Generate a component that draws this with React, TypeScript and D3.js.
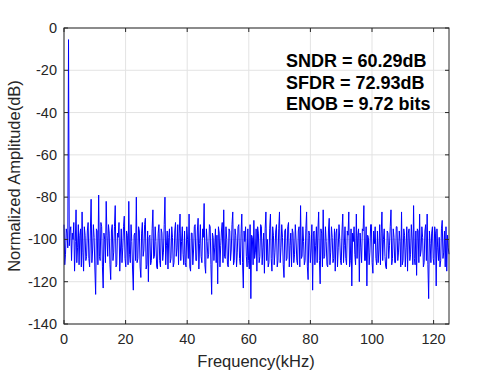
import React from "react";
import * as d3 from "d3";

// FFT output, 512 bins over 0..125 kHz, normalized amplitude in dB
const binStep = 125 / 511;

const amp0to31k = [
  -93, -112, -107, -95, -97, -104, -5.5, -103, -96, -94, -110, -97, -100, -92, -115, -101,
  -86, -111, -104, -93, -112, -98, -95, -113, -87, -106, -115, -94, -98, -110, -108, -96,
  -92, -109, -113, -96, -81, -111, -105, -93, -99, -114, -126, -95, -96, -112, -79, -108,
  -110, -92, -94, -113, -123, -97, -100, -111, -82, -98, -108, -93, -97, -112, -119, -96,
  -93, -110, -106, -94, -84, -113, -112, -97, -99, -92, -115, -105, -95, -111, -104, -94,
  -89, -109, -113, -96, -98, -112, -82, -107, -111, -93, -101, -114, -124, -98, -97, -110,
  -80, -111, -109, -94, -96, -113, -118, -97, -92, -108, -105, -93, -90, -114, -112, -96,
  -120, -99, -98, -112, -110, -95, -86, -109, -108, -94, -101, -113, -114, -97, -93, -110,
];
const amp31to63k = [
  -113, -95, -97, -110, -106, -93, -80, -112, -103, -96, -114, -99, -95, -111, -109, -94,
  -99, -113, -111, -96, -92, -108, -104, -93, -112, -97, -88, -110, -101, -94, -107, -112,
  -96, -111, -113, -94, -100, -109, -88, -113, -115, -97, -97, -112, -105, -94, -93, -110,
  -110, -96, -90, -114, -102, -93, -108, -111, -95, -99, -83, -112, -116, -95, -101, -109,
  -107, -93, -94, -112, -126, -97, -99, -110, -104, -95, -111, -98, -121, -94, -97, -113,
  -103, -96, -92, -111, -86, -108, -109, -94, -100, -112, -113, -95, -96, -110, -105, -93,
  -87, -112, -110, -95, -98, -113, -106, -94, -93, -109, -112, -97, -88, -111, -123, -96,
  -101, -94, -108, -113, -95, -110, -114, -93, -128, -98, -99, -112, -91, -109, -106, -95,
];
const amp63to94k = [
  -115, -94, -97, -111, -108, -93, -94, -112, -104, -97, -116, -95, -87, -110, -100, -113,
  -111, -95, -88, -109, -115, -94, -98, -112, -106, -96, -93, -113, -110, -95, -87, -111,
  -104, -93, -99, -112, -118, -96, -95, -110, -109, -94, -92, -113, -103, -97, -113, -95,
  -97, -111, -107, -93, -100, -110, -112, -96, -94, -113, -84, -109, -108, -94, -101, -112,
  -110, -95, -87, -113, -119, -96, -98, -111, -105, -93, -124, -97, -96, -112, -103, -94,
  -111, -96, -87, -110, -121, -95, -97, -113, -86, -109, -108, -94, -101, -112, -113, -96,
  -90, -112, -106, -94, -99, -111, -109, -95, -115, -97, -95, -113, -104, -93, -100, -110,
  -112, -96, -88, -111, -103, -94, -109, -112, -96, -98, -87, -113, -110, -95, -122, -97,
];
const amp94to125k = [
  -101, -94, -107, -112, -88, -109, -98, -95, -120, -97, -104, -111, -95, -96, -84, -110,
  -110, -94, -122, -98, -99, -112, -106, -93, -93, -111, -116, -96, -102, -94, -109, -112,
  -96, -111, -105, -93, -112, -97, -87, -110, -100, -95, -108, -113, -114, -96, -97, -109,
  -103, -94, -86, -112, -109, -95, -99, -111, -111, -94, -94, -110, -106, -96, -101, -113,
  -87, -112, -110, -95, -98, -113, -104, -94, -115, -97, -95, -110, -107, -93, -100, -112,
  -84, -109, -112, -96, -117, -95, -96, -111, -88, -108, -105, -94, -99, -113, -111, -96,
  -93, -110, -88, -112, -128, -96, -102, -111, -97, -94, -109, -112, -94, -97, -122, -95,
  -104, -110, -99, -113, -110, -95, -91, -109, -106, -96, -113, -94, -115, -98, -104, -107,
];

const xTicks = [0, 20, 40, 60, 80, 100, 120];
const yTicks = [0, -20, -40, -60, -80, -100, -120, -140];
const notes = ["SNDR = 60.29dB", "SFDR = 72.93dB", "ENOB = 9.72 bits"];

const W = 496;
const H = 373;
const plot = { left: 64, right: 449, top: 28, bottom: 324 };
const axisColor = "#262626";
const font = "Arial, 'Liberation Sans', Helvetica, sans-serif";

export default function App() {
  const amps = [...amp0to31k, ...amp31to63k, ...amp63to94k, ...amp94to125k];
  const data = amps.map((a, i) => ({ f: i * binStep, a }));

  const x = d3.scaleLinear().domain([0, 125]).range([plot.left, plot.right]);
  const y = d3.scaleLinear().domain([-140, 0]).range([plot.bottom, plot.top]);

  const line = d3
    .line<{ f: number; a: number }>()
    .x((d) => x(d.f))
    .y((d) => y(d.a));

  const tl = 4;

  return (
    <svg
      width={W}
      height={H}
      style={{ position: "absolute", left: 0, top: 0, background: "#fff" }}
      fontFamily={font}
    >
      <rect x={0} y={0} width={W} height={H} fill="#fff" />
      {/* grid */}
      {xTicks.map((t) => (
        <line key={"gx" + t} x1={x(t)} x2={x(t)} y1={plot.top} y2={plot.bottom} stroke="#e3e3e3" />
      ))}
      {yTicks.map((t) => (
        <line key={"gy" + t} x1={plot.left} x2={plot.right} y1={y(t)} y2={y(t)} stroke="#e3e3e3" />
      ))}

      {/* spectrum */}
      <path d={line(data) || ""} fill="none" stroke="#0000ff" strokeWidth={1} />

      {/* box */}
      <rect
        x={plot.left}
        y={plot.top}
        width={plot.right - plot.left}
        height={plot.bottom - plot.top}
        fill="none"
        stroke={axisColor}
        strokeWidth={1}
      />

      {/* ticks */}
      {xTicks.map((t) => (
        <g key={"tx" + t}>
          <line x1={x(t)} x2={x(t)} y1={plot.bottom} y2={plot.bottom - tl} stroke={axisColor} />
          <line x1={x(t)} x2={x(t)} y1={plot.top} y2={plot.top + tl} stroke={axisColor} />
          <text x={x(t)} y={344} textAnchor="middle" fontSize={14.5} fill={axisColor}>
            {t}
          </text>
        </g>
      ))}
      {yTicks.map((t) => (
        <g key={"ty" + t}>
          <line x1={plot.left} x2={plot.left + tl} y1={y(t)} y2={y(t)} stroke={axisColor} />
          <line x1={plot.right} x2={plot.right - tl} y1={y(t)} y2={y(t)} stroke={axisColor} />
          <text x={57} y={y(t) + 5} textAnchor="end" fontSize={14.5} fill={axisColor}>
            {t}
          </text>
        </g>
      ))}

      {/* axis titles */}
      <text x={256} y={367} textAnchor="middle" fontSize={16.5} fill={axisColor}>
        Frequency(kHz)
      </text>
      <text
        transform={`translate(20,${(plot.top + plot.bottom) / 2}) rotate(-90)`}
        textAnchor="middle"
        fontSize={16.5}
        fill={axisColor}
      >
        Normalized Amplitude(dB)
      </text>

      {/* annotations */}
      {notes.map((n, i) => (
        <text key={n} x={286} y={67 + i * 21.7} fontSize={18} fontWeight="bold" fill="#000">
          {n}
        </text>
      ))}
    </svg>
  );
}
